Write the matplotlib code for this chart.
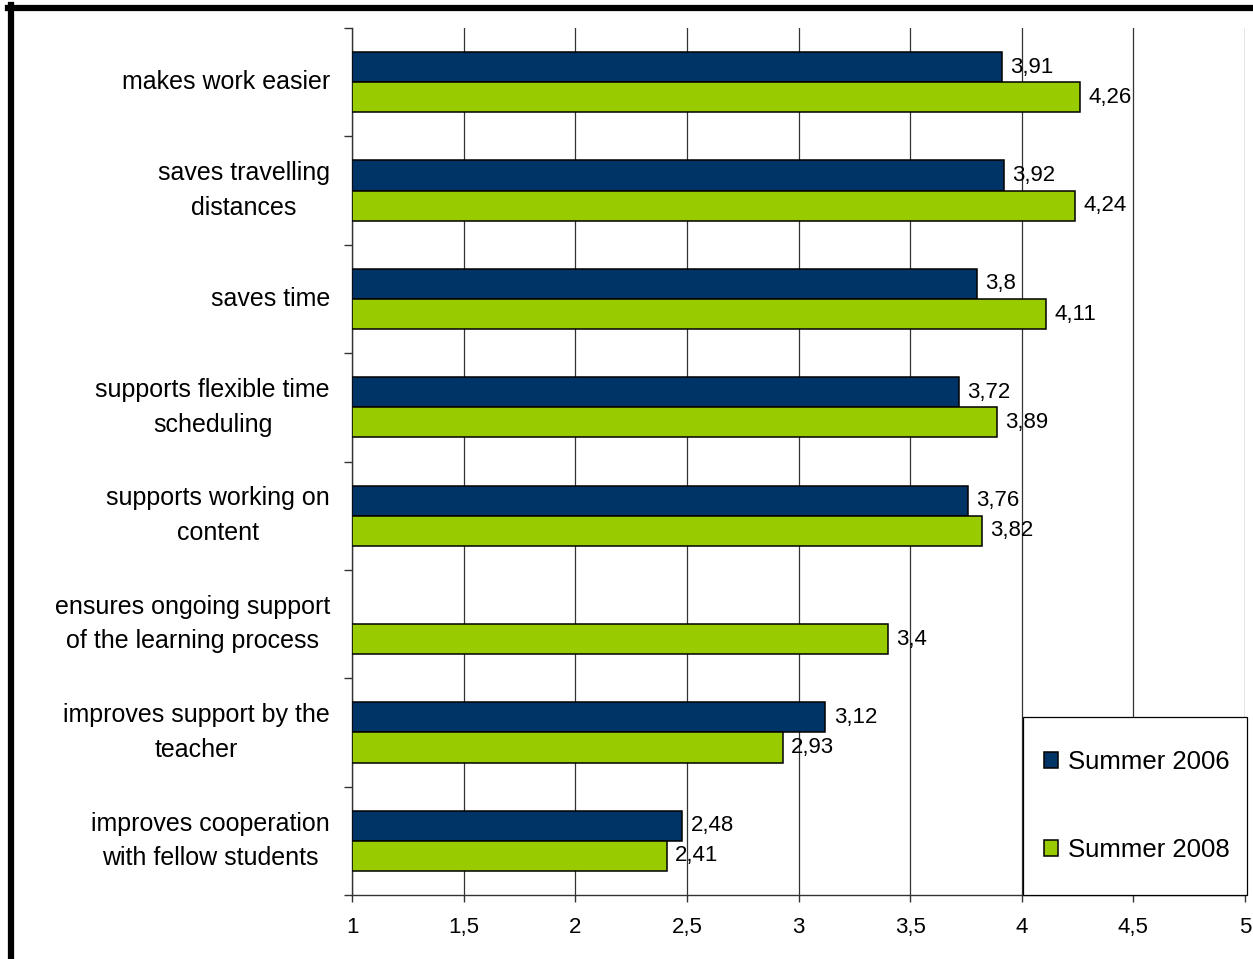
import numpy as np
import matplotlib
matplotlib.use("Agg")
import matplotlib.pyplot as plt
from matplotlib.lines import Line2D
from matplotlib.patches import Rectangle

plt.rcParams['font.family'] = ['Liberation Sans', 'DejaVu Sans']

categories = [
    "makes work easier",
    "saves travelling\ndistances",
    "saves time",
    "supports flexible time\nscheduling",
    "supports working on\ncontent",
    "ensures ongoing support\nof the learning process",
    "improves support by the\nteacher",
    "improves cooperation\nwith fellow students",
]
summer_2006 = [3.91, 3.92, 3.8, 3.72, 3.76, np.nan, 3.12, 2.48]
summer_2008 = [4.26, 4.24, 4.11, 3.89, 3.82, 3.4, 2.93, 2.41]
series_names = ["Summer 2006", "Summer 2008"]
xticks = [1, 1.5, 2, 2.5, 3, 3.5, 4, 4.5, 5]

c2006 = "#003366"
c2008 = "#99cc00"

W, H = 1253, 959
fig = plt.figure(figsize=(W / 100, H / 100), dpi=100)
ax_l, ax_r, ax_t, ax_b = 352, 1245, 28, 895
ax = fig.add_axes([ax_l / W, 1 - ax_b / H, (ax_r - ax_l) / W, (ax_b - ax_t) / H])

y = np.arange(len(categories))
h = 0.278
left = 1
v06 = np.array(summer_2006)
v08 = np.array(summer_2008)
ax.barh(y - h / 2, v06 - left, left=left, height=h, color=c2006,
        edgecolor="black", linewidth=1.1, label=series_names[0], zorder=3)
ax.barh(y + h / 2, v08 - left, left=left, height=h, color=c2008,
        edgecolor="black", linewidth=1.1, label=series_names[1], zorder=3)

def fmt(v):
    return f"{v:g}".replace(".", ",")

for yy, v in zip(y - h / 2, v06):
    if not np.isnan(v):
        ax.annotate(fmt(v), (v, yy), xytext=(6, 0), textcoords="offset points",
                    va="center", ha="left", fontsize=16, zorder=4)
for yy, v in zip(y + h / 2, v08):
    ax.annotate(fmt(v), (v, yy), xytext=(6, 0), textcoords="offset points",
                va="center", ha="left", fontsize=16, zorder=4)

ax.set_xlim(1, 5)
ax.set_ylim(len(categories) - 0.5, -0.5)
ax.set_xticks(xticks)
ax.set_xticklabels([fmt(t) for t in xticks], fontsize=16)
ax.tick_params(axis="x", length=5, width=1, pad=11, color="#333333")
ax.grid(axis="x", color="#333333", linewidth=0.9, zorder=0)

ax.set_yticks(np.arange(len(categories) + 1) - 0.5)
ax.set_yticklabels([])
ax.tick_params(axis="y", which="major", length=6, width=1, color="#333333")
ax.set_yticks(y, minor=True)
ax.set_yticklabels(categories, minor=True, fontsize=18, ha="right", va="center",
                   multialignment="center", linespacing=1.55)
ax.tick_params(axis="y", which="minor", length=0, pad=16)

for s in ["top", "right"]:
    ax.spines[s].set_visible(False)
ax.spines["left"].set_color("#333333")
ax.spines["bottom"].set_color("#333333")
ax.spines["bottom"].set_bounds(1, 5)
ax.spines["left"].set_linewidth(1)
ax.spines["bottom"].set_linewidth(1)

# legend box
pw, ph = ax_r - ax_l, ax_b - ax_t
bx0 = (1023 - ax_l) / pw
bx1 = (1247 - ax_l) / pw
by1 = (ax_b - 717) / ph
ax.add_patch(Rectangle((bx0, 0), bx1 - bx0, by1, transform=ax.transAxes,
                       facecolor="white", edgecolor="black", linewidth=0.9,
                       zorder=4.5, clip_on=False))
leg = ax.legend(loc="center left",
                bbox_to_anchor=((1044 - ax_l) / pw, (ax_b - 806) / ph),
                borderaxespad=0, borderpad=0, frameon=False, fontsize=18.5,
                handlelength=0.55, handleheight=0.55, handletextpad=0.4,
                labelspacing=2.5)
for hnd in leg.legend_handles:
    hnd.set_linewidth(1.1)
leg.set_zorder(5)

# figure border (left and top visible)
fig.add_artist(Line2D([11 / W, 11 / W], [0, 1 - 5 / H], color="black",
                      linewidth=4.5, transform=fig.transFigure))
fig.add_artist(Line2D([8 / W, 1], [1 - 7.5 / H, 1 - 7.5 / H], color="black",
                      linewidth=4.5, transform=fig.transFigure))

fig.savefig("out.png", dpi=100)
